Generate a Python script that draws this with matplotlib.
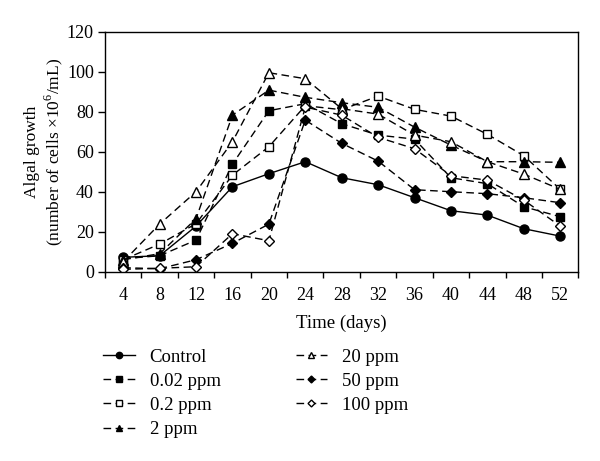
import matplotlib
matplotlib.use("Agg")
import matplotlib.pyplot as plt
import numpy as np

days = [4, 8, 12, 16, 20, 24, 28, 32, 36, 40, 44, 48, 52]
control = [7.2, 8.0, 22.8, 42.5, 49.0, 55.0, 47.0, 43.5, 37.0, 30.5, 28.3, 21.5, 17.8]
ppm_002 = [6.5, 8.0, 15.8, 53.8, 80.5, 84.0, 74.0, 68.3, 66.3, 47.0, 44.0, 32.5, 27.5]
ppm_02 = [6.0, 13.8, 24.0, 48.3, 62.5, 83.0, 81.0, 87.8, 81.2, 77.8, 68.7, 58.0, 41.2]
ppm_2 = [6.0, 9.0, 26.5, 78.3, 90.8, 87.2, 84.5, 82.2, 72.3, 63.3, 55.0, 55.0, 54.7]
ppm_20 = [5.0, 23.8, 40.0, 65.0, 99.5, 96.5, 81.5, 78.8, 68.3, 65.0, 55.0, 48.8, 41.2]
ppm_50 = [2.0, 1.5, 6.0, 14.2, 23.8, 75.8, 64.2, 55.3, 41.0, 40.0, 39.0, 37.0, 34.5]
ppm_100 = [1.2, 1.7, 2.5, 19.0, 15.5, 82.3, 78.3, 67.2, 61.5, 48.0, 45.8, 35.8, 22.8]

labels = ["Control", "0.02 ppm", "0.2 ppm", "2 ppm", "20 ppm", "50 ppm", "100 ppm"]
series = [control, ppm_002, ppm_02, ppm_2, ppm_20, ppm_50, ppm_100]
markers = ["o", "s", "s", "^", "^", "D", "D"]
fills = ["k", "k", "w", "k", "w", "k", "w"]
msizes = [6.5, 6.0, 6.0, 6.5, 6.5, 5, 5]

plt.rcParams['font.family'] = ['Liberation Serif', 'DejaVu Serif']
plt.rcParams['mathtext.fontset'] = 'custom'
plt.rcParams['mathtext.rm'] = 'Liberation Serif'

fig = plt.figure(figsize=(6.0, 4.61), dpi=100)
ax = fig.add_axes([0.175, 0.4106, 0.789, 0.5206])

x = np.arange(len(days))
handles = []
for vals, lab, m, fc, ms in zip(series, labels, markers, fills, msizes):
    ls = '-' if lab == "Control" else (0, (5.5, 3.2))
    h, = ax.plot(x, vals, linestyle=ls, color='k', lw=1.0, marker=m,
                 markersize=ms, markerfacecolor=fc, markeredgecolor='k',
                 markeredgewidth=1.0, label=lab)
    handles.append(h)

ax.set_xlim(-0.5, len(days) - 0.5)
ax.set_ylim(0, 120)
ax.set_yticks(np.arange(0, 121, 20))
ax.set_xticks(x)
ax.set_xticklabels([str(d) for d in days])
ax.set_xticks(np.arange(-0.5, len(days), 1.0), minor=True)
ax.tick_params(axis='x', which='major', length=0, pad=11, labelsize=13)
ax.tick_params(axis='x', which='minor', length=4, direction='out', width=1)
ax.tick_params(axis='y', which='major', length=5, direction='out', width=1, labelsize=13, pad=3)
for s in ax.spines.values():
    s.set_linewidth(1.0)

ax.set_xlabel("Time (days)", fontsize=13.5, labelpad=8)
ax.set_ylabel("Algal growth\n(number of cells \u00d710$^{6}$/mL)", fontsize=12.5,
              labelpad=1, linespacing=1.2)

leg = fig.legend(handles=handles, labels=labels, ncol=2, loc='upper left',
                 bbox_to_anchor=(0.143, 0.28), frameon=False, fontsize=13.5,
                 handlelength=1.7, handletextpad=0.8, columnspacing=4.0,
                 labelspacing=0.37, markerscale=0.7)

fig.savefig("out.png", dpi=100)
